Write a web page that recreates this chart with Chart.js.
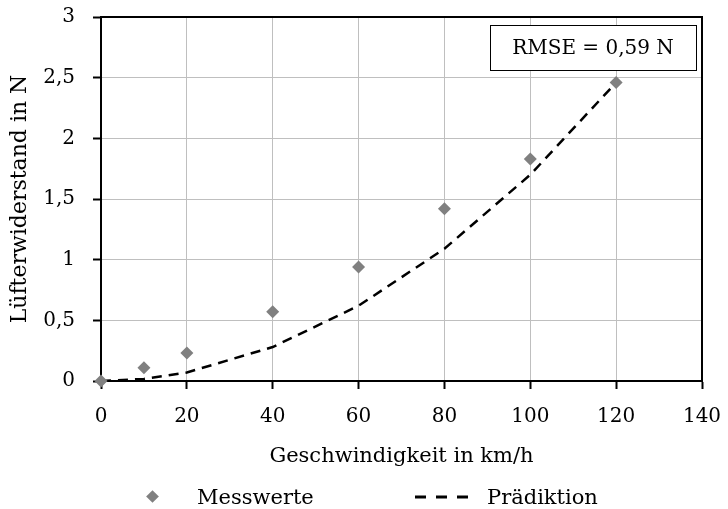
<!DOCTYPE html>
<html lang="de">
<head>
<meta charset="utf-8">
<title>Lüfterwiderstand</title>
<script src="https://cdn.jsdelivr.net/npm/chart.js@4/dist/chart.umd.min.js"></script>
<style>
  html, body { margin: 0; padding: 0; background: #fff; }
  #wrap { position: relative; width: 728px; height: 509px; font-family: "DejaVu Serif", serif; }
  #chart { position: absolute; left: 0; top: 0; }
  .legend { position: absolute; top: 484px; font-size: 21px; line-height: 26px; color: #000; white-space: nowrap; }
  .diamond { position: absolute; width: 9px; height: 9px; background: #808080; transform: rotate(45deg); }
</style>
</head>
<body>
<div id="wrap">
  <canvas id="chart" width="728" height="509"></canvas>
  <div class="diamond" style="left:148px; top:492px;"></div>
  <div class="legend" style="left:197px;">Messwerte</div>
  <svg style="position:absolute; left:415px; top:491px;" width="53" height="12">
    <line x1="0" y1="6" x2="53" y2="6" stroke="#000" stroke-width="3" stroke-dasharray="11 10"></line>
  </svg>
  <div class="legend" style="left:487px;">Prädiktion</div>
</div>
<script>
// Geschwindigkeit (km/h) und gemessener Lüfterwiderstand (N)
const speedMeasured = [0, 10, 20, 40, 60, 80, 100, 120];
const dragMeasured = [0, 0.11, 0.23, 0.57, 0.94, 1.42, 1.83, 2.46];

// Modellprädiktion
const speedPredicted = [0, 10, 20, 40, 60, 80, 100, 120];
const dragPredicted = [0, 0.017, 0.07, 0.28, 0.62, 1.09, 1.70, 2.46];

const xTicks = [0, 20, 40, 60, 80, 100, 120, 140];
const yTicks = [0, 0.5, 1, 1.5, 2, 2.5, 3];
const rmseLabel = 'RMSE = 0,59 N';

const FONT = 'DejaVu Serif';

const fmt = v => String(v).replace('.', ',');

// Rahmen oben/rechts um die Zeichenfläche
const framePlugin = {
  id: 'frame',
  beforeDatasetsDraw(chart) {
    const { ctx, chartArea: a } = chart;
    ctx.save();
    ctx.strokeStyle = '#000';
    ctx.lineWidth = 2;
    ctx.beginPath();
    ctx.moveTo(a.left, a.top);
    ctx.lineTo(a.right, a.top);
    ctx.lineTo(a.right, a.bottom);
    ctx.stroke();
    ctx.restore();
  }
};

// Textfeld mit dem RMSE
const rmsePlugin = {
  id: 'rmseBox',
  afterDraw(chart) {
    const { ctx, chartArea: a } = chart;
    const w = 206, h = 45;
    const x = a.right - 212, y = a.top + 8;
    ctx.save();
    ctx.fillStyle = '#fff';
    ctx.fillRect(x, y, w, h);
    ctx.strokeStyle = '#000';
    ctx.lineWidth = 1;
    ctx.strokeRect(x + 0.5, y + 0.5, w, h);
    ctx.fillStyle = '#000';
    ctx.font = `20px "${FONT}"`;
    ctx.textAlign = 'center';
    ctx.textBaseline = 'middle';
    ctx.fillText(rmseLabel, x + w / 2, y + h / 2 + 1);
    ctx.restore();
  }
};

new Chart(document.getElementById('chart'), {
  type: 'scatter',
  data: {
    datasets: [
      {
        label: 'Messwerte',
        data: speedMeasured.map((x, i) => ({ x, y: dragMeasured[i] })),
        pointStyle: 'rectRot',
        pointRadius: 6.5,
        pointHoverRadius: 6.5,
        backgroundColor: '#808080',
        borderWidth: 0,
        clip: false
      },
      {
        label: 'Prädiktion',
        data: speedPredicted.map((x, i) => ({ x, y: dragPredicted[i] })),
        showLine: true,
        borderColor: '#000',
        borderWidth: 2.5,
        borderDash: [10, 7],
        pointRadius: 0,
        pointHoverRadius: 0,
        fill: false,
        clip: false
      }
    ]
  },
  options: {
    responsive: false,
    animation: false,
    devicePixelRatio: 1,
    layout: { padding: { left: 0, right: 26, top: 17, bottom: 37 } },
    plugins: {
      legend: { display: false },
      tooltip: { enabled: false }
    },
    scales: {
      x: {
        type: 'linear',
        min: 0,
        max: 140,
        afterBuildTicks: s => { s.ticks = xTicks.map(v => ({ value: v })); },
        // feste Höhe, Überstand der Randbeschriftung nicht einrechnen
        afterFit: s => { s.height = 91; s.paddingLeft = 0; s.paddingRight = 0; },
        ticks: {
          color: '#000',
          font: { family: FONT, size: 20 },
          padding: 16,
          maxRotation: 0,
          callback: v => fmt(v)
        },
        grid: { color: '#bfbfbf', lineWidth: 1, tickColor: '#000', tickLength: 8, tickWidth: 2 },
        border: { color: '#000', width: 2 },
        title: {
          display: true,
          text: 'Geschwindigkeit in km/h',
          color: '#000',
          font: { family: FONT, size: 21 },
          padding: { top: 0, bottom: 3 }
        }
      },
      y: {
        type: 'linear',
        min: 0,
        max: 3,
        afterBuildTicks: s => { s.ticks = yTicks.map(v => ({ value: v })); },
        afterFit: s => { s.width = 101; s.paddingTop = 0; s.paddingBottom = 0; },
        ticks: {
          color: '#000',
          font: { family: FONT, size: 20 },
          padding: 18,
          callback: v => fmt(v)
        },
        grid: { color: '#bfbfbf', lineWidth: 1, tickColor: '#000', tickLength: 8, tickWidth: 2 },
        border: { color: '#000', width: 2 },
        title: {
          display: true,
          text: 'Lüfterwiderstand in N',
          color: '#000',
          font: { family: FONT, size: 22 },
          padding: { top: 7, bottom: 0 }
        }
      }
    }
  },
  plugins: [framePlugin, rmsePlugin]
});
</script>
</body>
</html>
